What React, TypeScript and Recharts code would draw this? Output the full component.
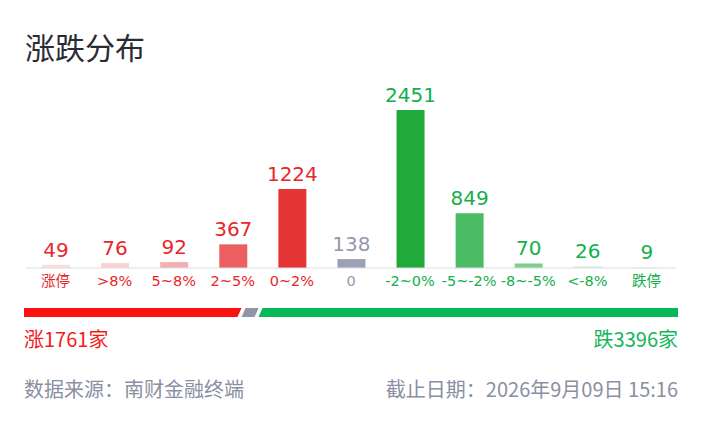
import React from 'react';
import { BarChart, Bar, XAxis, YAxis, Cell, LabelList } from 'recharts';

const categories = ['涨停', '>8%', '5~8%', '2~5%', '0~2%', '0', '-2~0%', '-5~-2%', '-8~-5%', '<-8%', '跌停'];
const counts = [49, 76, 92, 367, 1224, 138, 2451, 849, 70, 26, 9];
const barColors = [
  '#fadcdc', '#fad2d3', '#f4b0b1', '#eb5f60', '#e53534',
  '#9ca1b5',
  '#1faa3a', '#4bbc63', '#7dcf8d', '#d5efdc', '#e8f5eb',
];
const textColors = [
  '#e8262c', '#e8262c', '#e8262c', '#e8262c', '#e8262c',
  '#9499ab',
  '#13b04b', '#13b04b', '#13b04b', '#13b04b', '#13b04b',
];

const upTotal = 1761;
const flatTotal = 138;
const downTotal = 3396;

const sourceText = '数据来源：南财金融终端';
const dateText = '截止日期：2026年9月09日 15:16';

const FONT = '"DejaVu Sans", "Noto Sans CJK SC", sans-serif';
const CJK = '"Noto Sans CJK SC", sans-serif';

const chartData = categories.map((name, i) => ({ name, count: counts[i] }));
const summaryData = [{ name: 'all', up: upTotal, flat: flatTotal, down: downTotal }];

function CategoryTick(props: any) {
  const { x, y, payload, index } = props;
  return (
    <text x={x} y={y} dy="0.71em" textAnchor="middle" fontSize={14.5} fontFamily={FONT} fill={textColors[index]}>
      {payload.value}
    </text>
  );
}

function ValueLabel(props: any) {
  const { x, y, width, value, index } = props;
  return (
    <text x={x + width / 2} y={y - 8} textAnchor="middle" fontSize={20} fontFamily={FONT} fill={textColors[index]}>
      {value}
    </text>
  );
}

// slanted segment for the summary strip
function makeSegment(fill: string, first: boolean, last: boolean) {
  const gap = 4;
  const s = 4;
  return (props: any) => {
    const { x, y, width, height } = props;
    const tl = x + (first ? 0 : gap / 2 + s / 2);
    const bl = x + (first ? 0 : gap / 2 - s / 2);
    const tr = x + width - (last ? 0 : gap / 2 - s / 2);
    const br = x + width - (last ? 0 : gap / 2 + s / 2);
    return <polygon points={`${tl},${y} ${tr},${y} ${br},${y + height} ${bl},${y + height}`} fill={fill} />;
  };
}

export default function App() {
  return (
    <div style={{ position: 'absolute', left: 0, top: 0, width: 702, height: 424, background: '#fff' }}>
      <div style={{ position: 'absolute', left: 25, top: 26, fontSize: 30, lineHeight: '40px', fontFamily: CJK, color: '#2b2b36' }}>
        涨跌分布
      </div>

      <div style={{ position: 'absolute', left: 0, top: 0 }}>
        <BarChart width={702} height={300} data={chartData} margin={{ top: 110, right: 26, bottom: 0, left: 26 }} barSize={28}>
          <XAxis
            dataKey="name"
            height={32}
            interval={0}
            tickLine={false}
            axisLine={{ stroke: '#dcdde3' }}
            tick={<CategoryTick />}
          />
          <YAxis hide domain={[0, 'dataMax']} />
          <Bar dataKey="count" isAnimationActive={false}>
            {chartData.map((d, i) => (
              <Cell key={d.name} fill={barColors[i]} />
            ))}
            <LabelList dataKey="count" content={<ValueLabel />} />
          </Bar>
        </BarChart>
      </div>

      <div style={{ position: 'absolute', left: 0, top: 307 }}>
        <BarChart width={702} height={10} data={summaryData} layout="vertical" margin={{ top: 0, right: 24, bottom: 0, left: 24 }} barSize={10}>
          <XAxis type="number" hide domain={[0, upTotal + flatTotal + downTotal]} />
          <YAxis type="category" dataKey="name" hide />
          <Bar dataKey="up" stackId="a" isAnimationActive={false} shape={makeSegment('#fa1212', true, false)} />
          <Bar dataKey="flat" stackId="a" isAnimationActive={false} shape={makeSegment('#9096a8', false, false)} />
          <Bar dataKey="down" stackId="a" isAnimationActive={false} shape={makeSegment('#07b859', false, true)} />
        </BarChart>
      </div>

      <div style={{ position: 'absolute', left: 24, top: 325, fontSize: 20, lineHeight: '28px', fontFamily: CJK, color: '#f01c1c' }}>
        涨{upTotal}家
      </div>
      <div style={{ position: 'absolute', right: 24, top: 325, fontSize: 20, lineHeight: '28px', fontFamily: CJK, color: '#13b65a' }}>
        跌{downTotal}家
      </div>

      <div style={{ position: 'absolute', left: 24, top: 375, fontSize: 20, lineHeight: '28px', fontFamily: CJK, color: '#8a8fa3' }}>
        {sourceText}
      </div>
      <div style={{ position: 'absolute', right: 24, top: 375, fontSize: 20, lineHeight: '28px', fontFamily: CJK, color: '#8a8fa3' }}>
        {dateText}
      </div>
    </div>
  );
}
